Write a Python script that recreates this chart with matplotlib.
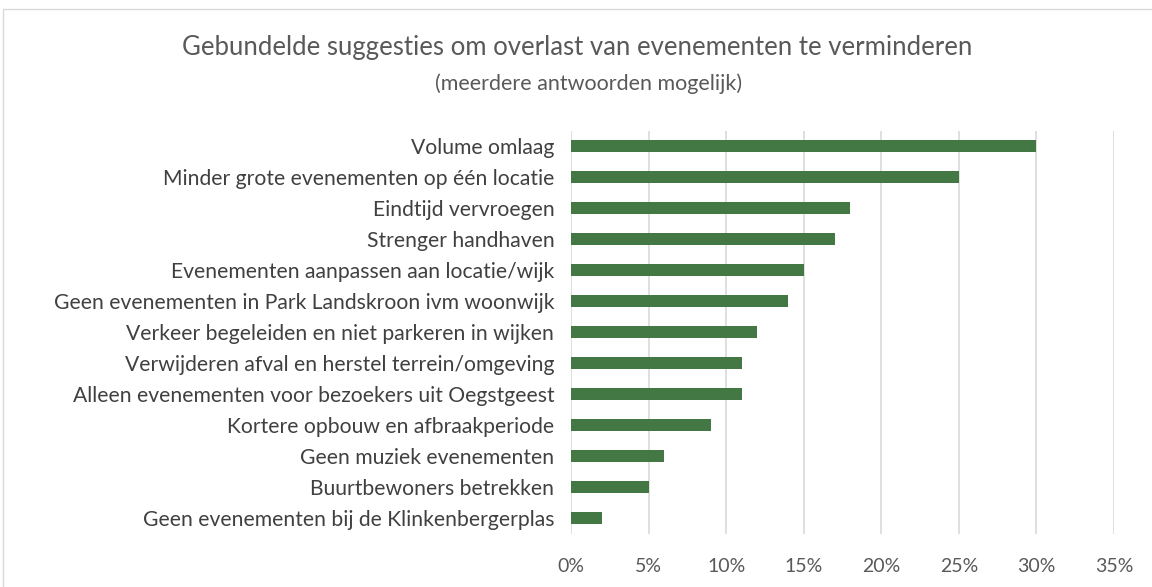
import matplotlib
matplotlib.use("Agg")
import matplotlib.pyplot as plt
from matplotlib.patches import Rectangle
from matplotlib.ticker import FuncFormatter, MultipleLocator

categories = [
    "Volume omlaag",
    "Minder grote evenementen op één locatie",
    "Eindtijd vervroegen",
    "Strenger handhaven",
    "Evenementen aanpassen aan locatie/wijk",
    "Geen evenementen in Park Landskroon ivm woonwijk",
    "Verkeer begeleiden en niet parkeren in wijken",
    "Verwijderen afval en herstel terrein/omgeving",
    "Alleen evenementen voor bezoekers uit Oegstgeest",
    "Kortere opbouw en afbraakperiode",
    "Geen muziek evenementen",
    "Buurtbewoners betrekken",
    "Geen evenementen bij de Klinkenbergerplas",
]
values = [30, 25, 18, 17, 15, 14, 12, 11, 11, 9, 6, 5, 2]

title = "Gebundelde suggesties om overlast van evenementen te verminderen"
subtitle = "(meerdere antwoorden mogelijk)"

plt.rcParams['font.family'] = ['Lato', 'DejaVu Sans']
W, H = 1152, 587
fig = plt.figure(figsize=(W / 100, H / 100), dpi=100)

ax = fig.add_axes([571 / W, 1 - 533.5 / H, (1114 - 571) / W, (533.5 - 130.5) / H])
y = list(range(len(categories)))
ax.barh(y, values, height=0.4, color="#437845", zorder=3)
ax.set_yticks(y)
ax.set_yticklabels(categories, fontsize=15.2, color="#404040")
ax.set_ylim(len(categories) - 0.5, -0.5)
ax.set_xlim(0, 35)
ax.xaxis.set_major_locator(MultipleLocator(5))
ax.xaxis.set_major_formatter(FuncFormatter(lambda v, p: f"{v:.0f}%"))
ax.tick_params(axis='x', labelsize=14, colors="#595959", length=0, pad=18)
ax.tick_params(axis='y', length=0, pad=12)
ax.grid(axis='x', color="#d9d9d9", linewidth=1.2, zorder=0)
for s in ax.spines.values():
    s.set_visible(False)

fig.text(577 / W, 1 - 47 / H, title, ha='center', va='center', fontsize=18.5, color="#595959")
fig.text(589 / W, 1 - 84 / H, subtitle, ha='center', va='center', fontsize=15.5, color="#595959")

fig.patches.append(Rectangle((3 / W, -0.05), 1.1, 1 - 9 / H + 0.05, transform=fig.transFigure,
                             fill=False, edgecolor="#d9d9d9", linewidth=1))

fig.savefig("out.png", dpi=100)
